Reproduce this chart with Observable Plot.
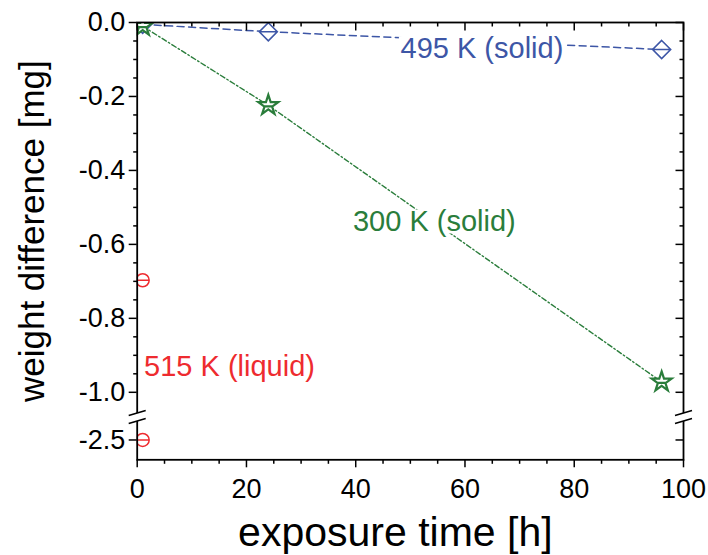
<!DOCTYPE html>
<html><head><meta charset="utf-8">
<script src="https://cdn.jsdelivr.net/npm/d3@7"></script>
<script src="https://cdn.jsdelivr.net/npm/@observablehq/plot@0.6"></script>
<style>body{margin:0;background:#fff;}</style></head>
<body><div id="chart"></div>
<script>
// ---- data ----
const time495 = [1, 24, 96];
const weight495 = [-0.005, -0.025, -0.073];
const time300 = [1, 24, 96];
const weight300 = [-0.01, -0.224, -0.972];
const time515 = [1, 1];
const weight515 = [-0.697, -2.5];

const labelText = ["495 K (solid)", "300 K (solid)", "515 K (liquid)"];
const labelX = [63.1, 54.4, 16.9];
const labelY = [-0.07, -0.538, -0.93];

const xMajor = [0, 20, 40, 60, 80, 100];
const xMinor = [5, 10, 15, 25, 30, 35, 45, 50, 55, 65, 70, 75, 85, 90, 95];
const yMajor = [0, -0.2, -0.4, -0.6, -0.8, -1.0, -2.5];
const yMinor = [-0.05, -0.1, -0.15, -0.25, -0.3, -0.35, -0.45, -0.5, -0.55, -0.65, -0.7, -0.75, -0.85, -0.9, -0.95];
// broken axis: lower segment [-2.5535, -2.438], upper segment [-1.0668, 0]
const yDomain = [-2.5535, -2.438, -1.0668, 0];
const yBreak = [-1.0668];

const BLUE = "#3d56a6", GREEN = "#2a7d3b", RED = "#ee2b2f";
const COLORS = [BLUE, GREEN, RED];
const FONT = "'Liberation Sans', Arial, Helvetica, sans-serif";

const rows = (xs, ys) => xs.map((x, i) => ({x, y: ys[i]}));
const d495 = rows(time495, weight495);
const d300 = rows(time300, weight300);
const d515 = rows(time515, weight515);
const labels = labelText.map((t, i) => ({t, x: labelX[i], y: labelY[i], c: COLORS[i]}));

// ---- symbols ----
const seg = (dx, dy) => ({draw(c) { c.moveTo(0, 0); c.lineTo(dx, dy); }});
const box = (w, h) => ({draw(c) { c.rect(-w, -h, 2 * w, 2 * h); }});
const circleBar = {draw(c) { const r = 6.5; c.moveTo(r, 0); c.arc(0, 0, r, 0, 2 * Math.PI); c.moveTo(-r, 0); c.lineTo(r, 0); }};
const diamondBar = {draw(c) { const r = 9; c.moveTo(0, -r); c.lineTo(r, 0); c.lineTo(0, r); c.lineTo(-r, 0); c.closePath(); c.moveTo(-r, 0); c.lineTo(r, 0); }};
const starBar = {draw(c) {
  const R = 10.5, r = R * 0.382;
  for (let i = 0; i < 10; i++) {
    const a = -Math.PI / 2 + i * Math.PI / 5, rr = i % 2 ? r : R;
    const px = rr * Math.cos(a), py = rr * Math.sin(a);
    i ? c.lineTo(px, py) : c.moveTo(px, py);
  }
  c.closePath(); c.moveTo(-4.5, 1); c.lineTo(4.5, 1);
}};
const breakMask = {draw(c) { c.moveTo(-4, -4 + 1.2); c.lineTo(4, -4 - 1.2); c.lineTo(4, 4 - 1.2); c.lineTo(-4, 4 + 1.2); c.closePath(); }};
const breakLines = {draw(c) { c.moveTo(-8.5, -4 + 2.5); c.lineTo(8.5, -4 - 2.5); c.moveTo(-8.5, 4 + 2.5); c.lineTo(8.5, 4 - 2.5); }};

const tk = {fill: "none", stroke: "black", strokeWidth: 1.5};

const chart = Plot.plot({
  width: 708, height: 555,
  marginLeft: 136.7, marginRight: 25, marginTop: 22, marginBottom: 95.7,
  style: {fontFamily: FONT, background: "white", color: "black"},
  x: {domain: [0, 100]},
  y: {type: "linear", domain: yDomain, range: [459.3, 416.5, 416.5, 22]},
  marks: [
    Plot.line(d495, {x: "x", y: "y", stroke: BLUE, strokeWidth: 1.5, strokeDasharray: "7,4.5"}),
    Plot.line(d300, {x: "x", y: "y", stroke: GREEN, strokeWidth: 1.4, strokeDasharray: "5,2.5,1.5,2.5"}),
    Plot.dot(labels.slice(0, 2), {x: "x", y: "y", symbol: box(83, 12), fill: "white", stroke: "none"}),
    Plot.text(labels, {x: "x", y: "y", text: "t", fill: "c", fontSize: 29, textAnchor: "middle", lineAnchor: "middle"}),
    Plot.dot(d495, {x: "x", y: "y", symbol: diamondBar, stroke: BLUE, fill: "white", strokeWidth: 1.6, clip: true}),
    Plot.dot(d300, {x: "x", y: "y", symbol: starBar, stroke: GREEN, fill: "white", strokeWidth: 2.2, clip: true}),
    Plot.dot(d515, {x: "x", y: "y", symbol: circleBar, stroke: RED, fill: "white", strokeWidth: 1.5, clip: true}),
    Plot.frame({stroke: "black", strokeWidth: 1.8}),
    Plot.axisY({ticks: yMajor, tickSize: 8, tickPadding: 4, strokeWidth: 1.5, fontSize: 27, label: null, tickFormat: d => d.toFixed(1)}),
    Plot.axisX({ticks: xMajor, tickSize: 8, tickPadding: 11, strokeWidth: 1.5, fontSize: 27, label: null, tickFormat: d => String(d)}),
    Plot.dot(yMinor, {x: () => 0, y: d => d, symbol: seg(-4, 0), ...tk}),
    Plot.dot(yMajor, {x: () => 100, y: d => d, symbol: seg(-8, 0), ...tk}),
    Plot.dot(yMinor, {x: () => 100, y: d => d, symbol: seg(-4, 0), ...tk}),
    Plot.dot(xMinor, {x: d => d, y: () => yDomain[0], symbol: seg(0, 4), ...tk}),
    Plot.dot(xMajor, {x: d => d, y: () => 0, symbol: seg(0, 8), ...tk}),
    Plot.dot(xMinor, {x: d => d, y: () => 0, symbol: seg(0, 4), ...tk}),
    Plot.dot(yBreak, {x: () => 0, y: d => d, symbol: breakMask, fill: "white", stroke: "none"}),
    Plot.dot(yBreak, {x: () => 100, y: d => d, symbol: breakMask, fill: "white", stroke: "none"}),
    Plot.dot(yBreak, {x: () => 0, y: d => d, symbol: breakLines, ...tk}),
    Plot.dot(yBreak, {x: () => 100, y: d => d, symbol: breakLines, ...tk}),
    Plot.text(["weight difference [mg]"], {frameAnchor: "left", rotate: -90, dx: -104, dy: -10, fontSize: 35, textAnchor: "middle", lineAnchor: "middle"}),
    Plot.text(["exposure time [h]"], {frameAnchor: "bottom", dx: -15, dy: 86, fontSize: 41, textAnchor: "middle", lineAnchor: "bottom"})
  ]
});
document.getElementById("chart").appendChild(chart);
</script></body></html>
